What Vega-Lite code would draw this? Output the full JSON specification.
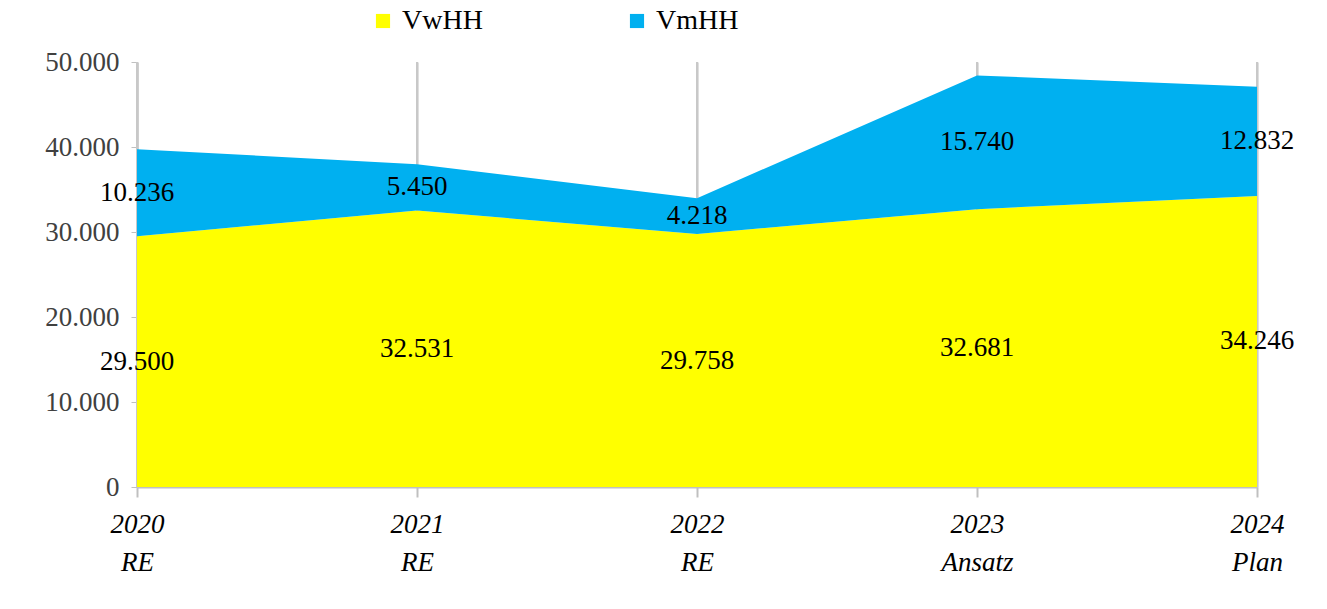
{
  "$schema": "https://vega.github.io/schema/vega-lite/v6.json",
  "width": 1120,
  "height": 425,
  "autosize": {"type": "none"},
  "padding": {"left": 137, "top": 62, "right": 70, "bottom": 122},
  "background": "white",
  "config": {
    "font": "Liberation Serif",
    "view": {"stroke": null},
    "locale": {"number": {"decimal": ",", "thousands": ".", "grouping": [3], "currency": ["", "€"]}}
  },
  "data": {
    "values": [
      {"year": "2020|RE", "series": "VwHH", "value": 29500},
      {"year": "2021|RE", "series": "VwHH", "value": 32531},
      {"year": "2022|RE", "series": "VwHH", "value": 29758},
      {"year": "2023|Ansatz", "series": "VwHH", "value": 32681},
      {"year": "2024|Plan", "series": "VwHH", "value": 34246},
      {"year": "2020|RE", "series": "VmHH", "value": 10236},
      {"year": "2021|RE", "series": "VmHH", "value": 5450},
      {"year": "2022|RE", "series": "VmHH", "value": 4218},
      {"year": "2023|Ansatz", "series": "VmHH", "value": 15740},
      {"year": "2024|Plan", "series": "VmHH", "value": 12832}
    ]
  },
  "transform": [
    {"stack": "value", "groupby": ["year"], "sort": [{"field": "series", "order": "descending"}], "as": ["y0", "y1"]},
    {"calculate": "(datum.y0 + datum.y1) / 2", "as": "mid"}
  ],
  "encoding": {
    "x": {
      "field": "year", "type": "ordinal", "sort": null,
      "scale": {"type": "point", "padding": 0},
      "axis": {
        "title": null, "labelAngle": 0, "labelFontStyle": "italic", "labelFontSize": 27,
        "labelColor": "#000000", "labelExpr": "split(datum.value, '|')", "labelLineHeight": 38,
        "labelPadding": 14, "domainColor": "#c0c0c0", "domainWidth": 2, "tickColor": "#c0c0c0",
        "tickWidth": 2, "tickSize": 10, "grid": true, "gridColor": "#c0c0c0", "gridWidth": 2,
        "encode": {"labels": {"enter": {"dy": {"signal": "datum.index * 30"}}, "update": {"dy": {"signal": "datum.index * 30"}}}}
      }
    }
  },
  "layer": [
    {
      "mark": {"type": "rule", "color": "#c8c8c8", "strokeWidth": 2},
      "encoding": {"y": {"datum": 50000, "type": "quantitative"}}
    },
    {
      "mark": {"type": "area", "opacity": 1},
      "encoding": {
        "y": {
          "field": "y1", "type": "quantitative", "scale": {"domain": [0, 50000]},
          "axis": {
            "title": null, "values": [0, 10000, 20000, 30000, 40000, 50000], "format": ",.0f",
            "labelFontSize": 27, "labelColor": "#404040", "labelPadding": 12, "grid": false,
            "domainColor": "#c0c0c0", "domainWidth": 2, "tickColor": "#c0c0c0", "tickSize": 6
          }
        },
        "y2": {"field": "y0"},
        "color": {
          "field": "series", "type": "nominal",
          "scale": {"domain": ["VwHH", "VmHH"], "range": ["#ffff00", "#00b0f0"]},
          "legend": {
            "title": null, "orient": "none", "legendX": 232, "legendY": -55, "direction": "horizontal",
            "symbolType": "square", "symbolSize": 200, "symbolOpacity": 1, "symbolStrokeWidth": 0,
            "labelFontSize": 28, "labelColor": "#000000", "columnPadding": 140, "labelOffset": 5
          }
        }
      }
    },
    {
      "mark": {"type": "text", "fontSize": 27, "color": "#000000"},
      "encoding": {
        "y": {"field": "mid", "type": "quantitative"},
        "text": {"field": "value", "type": "quantitative", "format": ",.0f"}
      }
    }
  ]
}
